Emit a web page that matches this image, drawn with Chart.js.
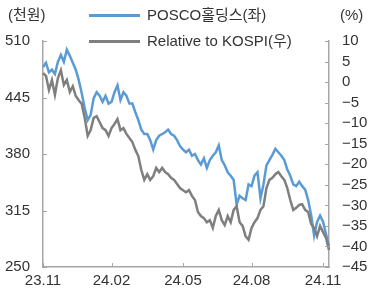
<!DOCTYPE html>
<html>
<head>
<meta charset="utf-8">
<script src="https://cdn.jsdelivr.net/npm/chart.js@4.4.0/dist/chart.umd.min.js"></script>
<style>
    body { margin: 0; background: #fff; }
    #wrap { position: relative; width: 370px; height: 289px; font-family: "Liberation Sans", "Noto Sans CJK KR", sans-serif; color: #333; }
    #wrap canvas { position: absolute; left: 0; top: 0; }
    .lbl { position: absolute; font-size: 15px; line-height: 18px; white-space: nowrap; }
    .leg { position: absolute; left: 89px; width: 51px; height: 3px; }
</style>
</head>
<body>
<div id="wrap">
    <canvas id="myChart" width="370" height="289"></canvas>
    <div class="lbl" style="left:8px;top:6px;">(천원)</div>
    <div class="lbl" style="left:340px;top:6px;">(%)</div>
    <div class="leg" style="top:14px;background:#5B9BD5;"></div>
    <div class="lbl" style="left:147px;top:6px;">POSCO홀딩스(좌)</div>
    <div class="leg" style="top:40px;background:#7F7F7F;"></div>
    <div class="lbl" style="left:147px;top:32px;">Relative to KOSPI(우)</div>
</div>
<script>
// POSCO홀딩스 주가 (천원, 좌축)
var posco = [480, 485, 474, 477, 472, 486, 494, 486, 500, 493,
    485, 477, 465, 450, 433, 419, 425, 444, 451, 447,
    440, 447, 438, 440, 451, 459, 442, 451, 447, 438,
    438, 428, 419, 408, 403, 403, 396, 385, 396, 401,
    403, 405, 408, 403, 401, 396, 389, 385, 382, 385,
    378, 380, 373, 368, 375, 364, 373, 378, 382, 390,
    373, 367, 359, 355, 350, 322, 332, 329, 327, 345,
    343, 355, 359, 329, 345, 367, 373, 379, 386, 382,
    378, 373, 362, 355, 345, 343, 348, 343, 339, 327,
    310, 286, 302, 309, 302, 288, 274]

// KOSPI 대비 상대수익률 (%, 우축)
var relative = [2.2, 1.5, -1.9, 0.5, -3.1, 1.0, 2.9, -0.7, 0.5, -2.4,
    -1.0, -3.4, -4.4, -5.3, -8.7, -13.1, -11.7, -8.7, -8.3, -9.7,
    -11.2, -11.7, -13.1, -11.2, -10.2, -9.0, -11.7, -11.2, -12.6, -13.6,
    -14.6, -16.5, -18.0, -21.4, -23.8, -22.4, -23.8, -22.9, -20.9, -21.9,
    -20.9, -21.9, -22.4, -23.3, -23.8, -24.8, -25.8, -26.3, -26.8, -26.3,
    -27.7, -28.7, -31.6, -32.6, -33.1, -34.1, -33.6, -35.5, -32.6, -31.1,
    -33.6, -34.8, -32.6, -34.1, -31.1, -30.2, -34.1, -35.0, -37.5, -38.4,
    -35.5, -34.1, -33.1, -31.1, -30.2, -25.8, -23.8, -23.3, -22.4, -21.9,
    -22.9, -23.8, -25.8, -28.7, -31.1, -30.6, -29.9, -29.7, -31.1, -31.6,
    -34.5, -35.5, -37.5, -35.0, -36.5, -37.9, -40.9]

var xTickLabels = ['23.11', '24.02', '24.05', '24.08', '24.11']
var xTickAt = [0, 23, 47, 70, 94]

var labels = posco.map(function (v, i) { return i })

var axisColor = '#a6a6a6'
var fontSpec = { family: "'Liberation Sans', 'Noto Sans CJK KR', sans-serif", size: 15 }

// ticks drawn inward like the original
var innerTicks = {
    id: 'innerTicks',
    afterDraw: function (chart) {
        var ctx = chart.ctx
        var area = chart.chartArea
        var len = 4
        ctx.save()
        ctx.strokeStyle = axisColor
        ctx.lineWidth = 1
        ctx.beginPath()
        chart.scales.y.ticks.forEach(function (t) {
            var y = Math.round(chart.scales.y.getPixelForValue(t.value)) + 0.5
            ctx.moveTo(area.left, y); ctx.lineTo(area.left + len, y)
        })
        chart.scales.y1.ticks.forEach(function (t) {
            var y = Math.round(chart.scales.y1.getPixelForValue(t.value)) + 0.5
            ctx.moveTo(area.right - len, y); ctx.lineTo(area.right, y)
        })
        xTickAt.forEach(function (i) {
            var x = Math.round(chart.scales.x.getPixelForValue(i)) + 0.5
            ctx.moveTo(x, area.bottom); ctx.lineTo(x, area.bottom - len)
        })
        ctx.stroke()
        ctx.restore()
    }
}

const ctx = document.getElementById('myChart').getContext('2d');
const myChart = new Chart(ctx, {
    type: 'line',
    data: {
        labels: labels,
        datasets: [{
            label: 'POSCO홀딩스(좌)',
            data: posco,
            yAxisID: 'y',
            borderColor: '#5B9BD5',
            borderWidth: 2.5,
            pointRadius: 0,
            tension: 0,
            order: 2
        }, {
            label: 'Relative to KOSPI(우)',
            data: relative,
            yAxisID: 'y1',
            borderColor: '#7F7F7F',
            borderWidth: 2.5,
            pointRadius: 0,
            tension: 0,
            order: 1
        }]
    },
    options: {
        responsive: false,
        animation: false,
        devicePixelRatio: 1,
        layout: { padding: { top: 41, left: 0, right: 0, bottom: 0 } },
        plugins: { legend: { display: false }, tooltip: { enabled: false } },
        scales: {
            x: {
                type: 'category',
                offset: false,
                grid: { display: true, drawOnChartArea: false, drawTicks: false },
                border: { display: true, color: axisColor, width: 1.5 },
                ticks: {
                    autoSkip: false,
                    maxRotation: 0,
                    minRotation: 0,
                    padding: 5,
                    color: '#333',
                    font: fontSpec,
                    callback: function (val, i) {
                        var k = xTickAt.indexOf(i)
                        return k >= 0 ? xTickLabels[k] : ''
                    }
                },
                afterFit: function (scale) { scale.height = 22 }
            },
            y: {
                position: 'left',
                min: 250,
                max: 510,
                grid: { display: true, drawOnChartArea: false, drawTicks: false },
                border: { display: true, color: axisColor, width: 1.5 },
                ticks: { stepSize: 65, autoSkip: false, padding: 13, color: '#333', font: fontSpec },
                afterFit: function (scale) { scale.width = 43 }
            },
            y1: {
                position: 'right',
                min: -45,
                max: 10,
                grid: { display: true, drawOnChartArea: false, drawTicks: false },
                border: { display: true, color: axisColor, width: 1.5 },
                ticks: {
                    stepSize: 5,
                    autoSkip: false,
                    padding: 13,
                    color: '#333',
                    font: fontSpec,
                    callback: function (v) { return v < 0 ? '\u2212' + Math.abs(v) : String(v) }
                },
                afterFit: function (scale) { scale.width = 41 }
            }
        }
    },
    plugins: [innerTicks]
});
</script>
</body>
</html>
